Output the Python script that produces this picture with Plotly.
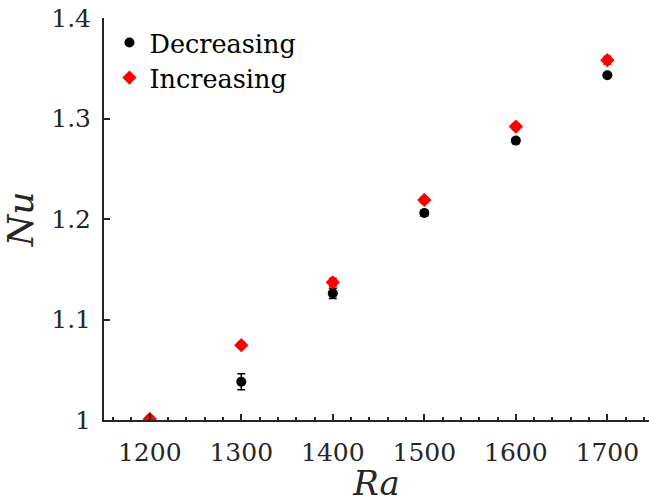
import plotly.graph_objects as go

ra = [1200, 1300, 1400, 1500, 1600, 1700]
nu_dec = [1.0005, 1.038, 1.126, 1.206, 1.278, 1.343]
err_dec = [0.003, 0.008, 0.005, 0.003, 0.002, 0.002]
nu_inc = [1.001, 1.0745, 1.137, 1.219, 1.292, 1.358]
err_inc = [0.002, 0.002, 0.004, 0.003, 0.003, 0.004]

x_ticks = [1200, 1300, 1400, 1500, 1600, 1700]
y_ticks = [1.0, 1.1, 1.2, 1.3, 1.4]
y_ticktext = ["1", "1.1", "1.2", "1.3", "1.4"]

FONT = "DejaVu Serif"
AX = "#262626"

fig = go.Figure()
fig.add_trace(go.Scatter(
    x=ra, y=nu_dec, mode="markers", name="Decreasing", legend="legend",
    marker=dict(symbol="circle", size=10, color="black"),
    error_y=dict(type="data", array=err_dec, visible=True, color="black", thickness=1.5, width=4),
))
fig.add_trace(go.Scatter(
    x=ra, y=nu_inc, mode="markers", name="Increasing", legend="legend2",
    marker=dict(symbol="diamond", size=11, color="red"),
    error_y=dict(type="data", array=err_inc, visible=True, color="red", thickness=1.5, width=4),
))

leg = dict(xanchor="left", yanchor="middle", bgcolor="rgba(0,0,0,0)",
           font=dict(family=FONT, size=25.5, color="black"), itemsizing="trace")

fig.update_layout(
    width=649, height=503,
    margin=dict(l=104, r=0, t=18, b=83),
    paper_bgcolor="white", plot_bgcolor="white",
    font=dict(family=FONT, size=25, color=AX),
    showlegend=True,
    legend=dict(x=0.01, y=1 - (43 - 18) / 402, **leg),
    legend2=dict(x=0.01, y=1 - (78 - 18) / 402, **leg),
)
fig.update_xaxes(
    range=[1150, 1745.5], showgrid=False, zeroline=False,
    showline=True, linecolor=AX, linewidth=2,
    ticks="inside", ticklen=6, tickwidth=2, tickcolor=AX,
    tickvals=x_ticks, ticklabelstandoff=9,
    minor=dict(ticks="inside", ticklen=3, tickwidth=2, tickcolor=AX, dtick=20, showgrid=False),
    title=dict(text="<i>Ra</i>", font=dict(family=FONT, size=34, color=AX), standoff=7),
)
fig.update_yaxes(
    range=[1.0, 1.4], showgrid=False, zeroline=False,
    showline=True, linecolor=AX, linewidth=2,
    ticks="inside", ticklen=6, tickwidth=2, tickcolor=AX,
    tickvals=y_ticks, ticktext=y_ticktext, ticklabelstandoff=6,
    title=dict(text="<i>Nu</i>", font=dict(family=FONT, size=36, color=AX), standoff=16),
)

fig.write_html("out.html")
